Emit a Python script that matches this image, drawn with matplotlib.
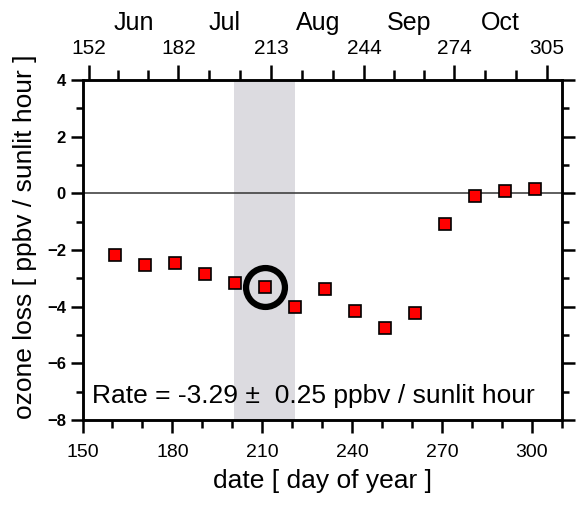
import numpy as np
import matplotlib.pyplot as plt
from matplotlib.ticker import MultipleLocator, FixedLocator

plt.rcParams['font.family'] = ['Liberation Sans', 'DejaVu Sans']

# ozone loss rate per 10-day bin
days = [161, 171, 181, 191, 201, 211, 221, 231, 241, 251, 261, 271, 281, 291, 301]
loss = [-2.18, -2.53, -2.45, -2.85, -3.18, -3.29, -4.02, -3.37, -4.15, -4.75,
        -4.21, -1.08, -0.08, 0.08, 0.14]
err = [0.06, 0.06, 0.06, 0.06, 0.08, 0.08, 0.08, 0.08, 0.06, 0.06, 0.08,
       0.12, 0.15, 0.12, 0.10]

# highlighted bin
hl_day = 211
hl_rate = -3.29
hl_err = 0.25
band = [200.5, 221]

# month boundaries (day of year) for the top axis
month_start = [152, 182, 213, 244, 274, 305]
month_names = ['Jun', 'Jul', 'Aug', 'Sep', 'Oct']

fig = plt.figure(figsize=(5.77, 5.05), dpi=100)
ax = fig.add_axes([0.143, 0.168, 0.831, 0.674])

ax.axvspan(band[0], band[1], color='#dcdbe0', lw=0, zorder=0)
ax.axhline(0, color='#333333', lw=1.1, zorder=1)

ax.errorbar(days, loss, yerr=err, fmt='none', ecolor='black', elinewidth=1,
            capsize=3, capthick=1, zorder=2)
ax.plot(days, loss, 's', ms=8.5, mfc='red', mec='black', mew=1.2, zorder=3)
ax.plot([hl_day], [hl_rate], 'o', ms=28, mfc='none', mec='black', mew=4.5, zorder=4)

ax.text(153.3, -7.15, 'Rate = %.2f \u00b1  %.2f ppbv / sunlit hour' % (hl_rate, hl_err),
        fontsize=19, ha='left', va='center')

ax.set_xlim(150, 310)
ax.set_ylim(-8, 4)
ax.xaxis.set_major_locator(MultipleLocator(30))
ax.xaxis.set_minor_locator(MultipleLocator(10))
ax.yaxis.set_major_locator(MultipleLocator(2))
ax.yaxis.set_minor_locator(MultipleLocator(1))

ax.tick_params(which='both', direction='out', width=1.8, right=True)
ax.tick_params(axis='y', which='major', length=9, labelsize=12, pad=3)
ax.tick_params(axis='y', which='minor', length=5)
ax.tick_params(axis='x', which='major', length=9, labelsize=14, pad=8)
ax.tick_params(axis='x', which='minor', length=6)
for lab in ax.get_yticklabels():
    lab.set_fontweight('bold')
for s in ax.spines.values():
    s.set_linewidth(1.8)

ax.set_xlabel('date [ day of year ]', fontsize=19, labelpad=6)
ax.set_ylabel('ozone loss [ ppbv / sunlit hour ]', fontsize=19, labelpad=7, y=0.54)

# top axis: day of year at month starts
top = ax.twiny()
top.set_xlim(ax.get_xlim())
top.xaxis.set_major_locator(FixedLocator(month_start))
minor = []
for a, b in zip(month_start[:-1], month_start[1:]):
    minor += [a + (b - a) / 3, a + 2 * (b - a) / 3]
top.xaxis.set_minor_locator(FixedLocator(minor))
top.tick_params(which='both', direction='out', width=1.8, labelsize=15, pad=5)
top.tick_params(which='major', length=11)
top.tick_params(which='minor', length=7)
for s in top.spines.values():
    s.set_linewidth(1.8)

for a, b, name in zip(month_start[:-1], month_start[1:], month_names):
    top.annotate(name, xy=((a + b) / 2, 1), xycoords=('data', 'axes fraction'),
                 xytext=(0, 41), textcoords='offset points',
                 ha='center', va='center', fontsize=18)

fig.savefig('out.png', dpi=100)
